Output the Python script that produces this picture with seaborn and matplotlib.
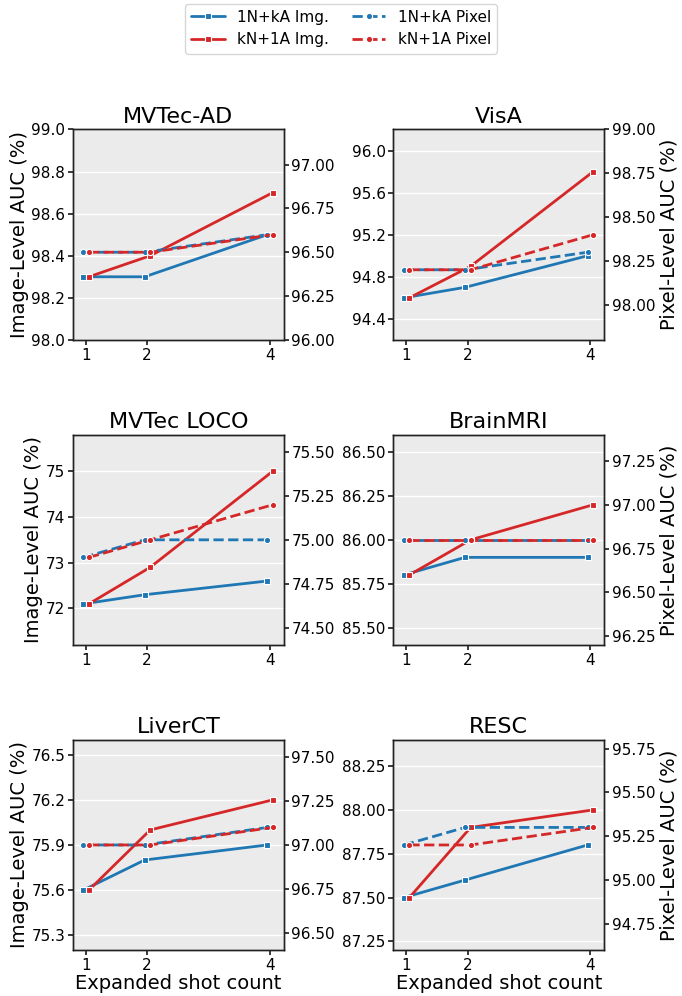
import numpy as np
import matplotlib
matplotlib.use("Agg")
import matplotlib.pyplot as plt
import seaborn as sns

shots = [1, 2, 4]
datasets = ["MVTec-AD", "VisA", "MVTec LOCO", "BrainMRI", "LiverCT", "RESC"]

# image-level AUC (left axis)
img_1n = {
    "MVTec-AD": [98.3, 98.3, 98.5],
    "VisA": [94.6, 94.7, 95.0],
    "MVTec LOCO": [72.1, 72.3, 72.6],
    "BrainMRI": [85.8, 85.9, 85.9],
    "LiverCT": [75.6, 75.8, 75.9],
    "RESC": [87.5, 87.6, 87.8],
}
img_kn = {
    "MVTec-AD": [98.3, 98.4, 98.7],
    "VisA": [94.6, 94.9, 95.8],
    "MVTec LOCO": [72.1, 72.9, 75.0],
    "BrainMRI": [85.8, 86.0, 86.2],
    "LiverCT": [75.6, 76.0, 76.2],
    "RESC": [87.5, 87.9, 88.0],
}
# pixel-level AUC (right axis)
pix_1n = {
    "MVTec-AD": [96.5, 96.5, 96.6],
    "VisA": [98.2, 98.2, 98.3],
    "MVTec LOCO": [74.9, 75.0, 75.0],
    "BrainMRI": [96.8, 96.8, 96.8],
    "LiverCT": [97.0, 97.0, 97.1],
    "RESC": [95.2, 95.3, 95.3],
}
pix_kn = {
    "MVTec-AD": [96.5, 96.5, 96.6],
    "VisA": [98.2, 98.2, 98.4],
    "MVTec LOCO": [74.9, 75.0, 75.2],
    "BrainMRI": [96.8, 96.8, 96.8],
    "LiverCT": [97.0, 97.0, 97.1],
    "RESC": [95.2, 95.2, 95.3],
}

# axis limits and ticks
left_lim = {
    "MVTec-AD": (98.0, 99.0, np.arange(98.0, 99.01, 0.2), "%.1f"),
    "VisA": (94.2, 96.2, np.arange(94.4, 96.01, 0.4), "%.1f"),
    "MVTec LOCO": (71.2, 75.8, np.arange(72, 75.1, 1), "%.0f"),
    "BrainMRI": (85.4, 86.6, np.arange(85.5, 86.51, 0.25), "%.2f"),
    "LiverCT": (75.2, 76.6, np.arange(75.3, 76.51, 0.3), "%.1f"),
    "RESC": (87.2, 88.4, np.arange(87.25, 88.26, 0.25), "%.2f"),
}
right_lim = {
    "MVTec-AD": (96.0, 97.2, np.arange(96.0, 97.01, 0.25)),
    "VisA": (97.8, 99.0, np.arange(98.0, 99.01, 0.25)),
    "MVTec LOCO": (74.4, 75.6, np.arange(74.5, 75.51, 0.25)),
    "BrainMRI": (96.2, 97.4, np.arange(96.25, 97.26, 0.25)),
    "LiverCT": (96.4, 97.6, np.arange(96.5, 97.51, 0.25)),
    "RESC": (94.6, 95.8, np.arange(94.75, 95.76, 0.25)),
}

blue = "#1f77b4"
red = "#d62728"

sns.set_theme(style="darkgrid", rc={
    "axes.facecolor": "#EBEBEB",
    "grid.color": "white",
    "grid.linewidth": 1.0,
    "axes.edgecolor": "#222222",
    "axes.linewidth": 1.0,
    "xtick.bottom": True,
    "ytick.left": True,
    "ytick.right": True,
    "text.color": "black",
    "axes.labelcolor": "black",
    "xtick.color": "black",
    "ytick.color": "black",
})
plt.rcParams["font.family"] = ["DejaVu Sans"]

fig, axes = plt.subplots(3, 2, figsize=(6.82, 9.96), dpi=100)
fig.subplots_adjust(left=0.107, right=0.886, top=0.870, bottom=0.046,
                    wspace=0.52, hspace=0.45)

legend_h, legend_l = [], []
for i, name in enumerate(datasets):
    ax = axes.flat[i]
    ax2 = ax.twinx()
    x_b = np.array(shots) - 0.04
    x_r = np.array(shots) + 0.05

    sns.lineplot(x=x_b, y=img_1n[name], ax=ax, color=blue, lw=2, marker="s",
                 markersize=5, markeredgecolor="white", markeredgewidth=0.8,
                 label="1N+kA Img.", legend=False)
    sns.lineplot(x=x_r, y=img_kn[name], ax=ax, color=red, lw=2, marker="s",
                 markersize=5, markeredgecolor="white", markeredgewidth=0.8,
                 label="kN+1A Img.", legend=False)
    sns.lineplot(x=x_b, y=pix_1n[name], ax=ax2, color=blue, lw=2, marker="o",
                 linestyle="--", markersize=4.5, markeredgecolor="white",
                 markeredgewidth=0.8, label="1N+kA Pixel", legend=False)
    sns.lineplot(x=x_r, y=pix_kn[name], ax=ax2, color=red, lw=2, marker="o",
                 linestyle="--", markersize=4.5, markeredgecolor="white",
                 markeredgewidth=0.8, label="kN+1A Pixel", legend=False)

    lo, hi, ticks, fmt = left_lim[name]
    ax.set_ylim(lo, hi)
    ax.set_yticks(ticks)
    ax.set_yticklabels([fmt % t for t in ticks], fontsize=11)
    lo2, hi2, ticks2 = right_lim[name]
    ax2.set_ylim(lo2, hi2)
    ax2.set_yticks(ticks2)
    ax2.set_yticklabels(["%.2f" % t for t in ticks2], fontsize=11)
    ax2.grid(False)

    ax.set_xlim(0.79, 4.23)
    ax.set_xticks(shots)
    ax.set_xticklabels([str(s) for s in shots], fontsize=11)
    ax.grid(axis="x", visible=False)
    ax.tick_params(axis="both", length=3.5, color="#222222", pad=2)
    ax2.tick_params(axis="y", length=3.5, color="#222222", pad=2)
    ax.set_title(name, fontsize=16, pad=5)

    if i % 2 == 0:
        ax.set_ylabel("Image-Level AUC (%)", fontsize=14, labelpad=2)
        ax2.set_ylabel("")
    else:
        ax.set_ylabel("")
        ax2.set_ylabel("Pixel-Level AUC (%)", fontsize=14, labelpad=3)
    if i >= 4:
        ax.set_xlabel("Expanded shot count", fontsize=14, labelpad=1)
    else:
        ax.set_xlabel("")

    if i == 0:
        h1, l1 = ax.get_legend_handles_labels()
        h2, l2 = ax2.get_legend_handles_labels()
        legend_h = h1 + h2
        legend_l = l1 + l2

fig.legend(legend_h, legend_l, loc="upper center", bbox_to_anchor=(0.5, 1.004),
           ncol=2, fontsize=11, frameon=True, handlelength=2.2,
           columnspacing=1.5, facecolor="white", edgecolor="#cccccc")

fig.savefig("out.png", dpi=100)
